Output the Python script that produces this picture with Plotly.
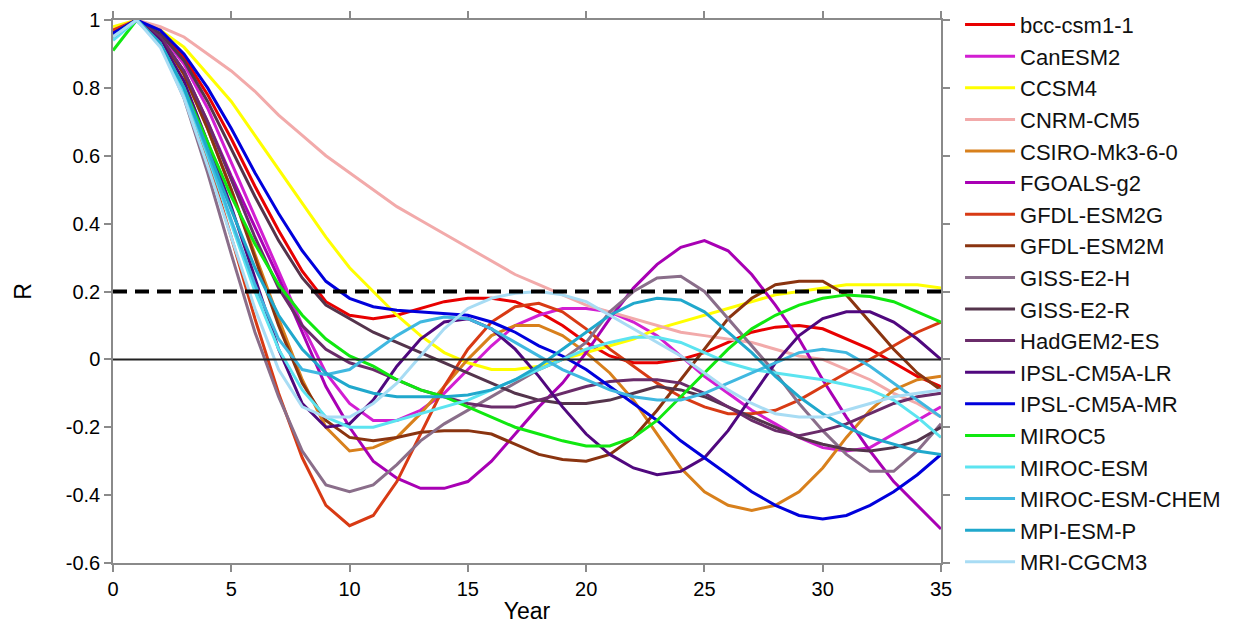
import plotly.graph_objects as go

years = list(range(0, 36))

models = ["bcc-csm1-1", "CanESM2", "CCSM4", "CNRM-CM5", "CSIRO-Mk3-6-0", "FGOALS-g2",
          "GFDL-ESM2G", "GFDL-ESM2M", "GISS-E2-H", "GISS-E2-R", "HadGEM2-ES",
          "IPSL-CM5A-LR", "IPSL-CM5A-MR", "MIROC5", "MIROC-ESM", "MIROC-ESM-CHEM",
          "MPI-ESM-P", "MRI-CGCM3"]

colors = ["#e80000", "#d21ed2", "#ffff00", "#f2aaaa", "#d8801c", "#a800b4",
          "#d83a14", "#8a3410", "#8a6e8a", "#54344c", "#6a2c6a",
          "#50087e", "#0000dc", "#10e810", "#5ce4f0", "#40b8e0",
          "#20a8cc", "#a8dcf4"]

bcc_csm1_1 = [0.97, 1.0, 0.97, 0.89, 0.78, 0.65, 0.51, 0.38, 0.26, 0.17, 0.13, 0.12, 0.13, 0.15, 0.17, 0.18,
              0.18, 0.17, 0.14, 0.10, 0.05, 0.01, -0.01, -0.01, 0.0, 0.02, 0.05, 0.08, 0.095, 0.10, 0.09,
              0.06, 0.03, -0.01, -0.05, -0.08]
CanESM2 = [0.97, 1.0, 0.96, 0.87, 0.74, 0.58, 0.42, 0.26, 0.10, -0.04, -0.13, -0.18, -0.18, -0.15, -0.10,
           -0.03, 0.04, 0.10, 0.13, 0.15, 0.15, 0.14, 0.11, 0.07, 0.01, -0.05, -0.10, -0.15, -0.19, -0.23,
           -0.26, -0.27, -0.26, -0.22, -0.18, -0.14]
CCSM4 = [0.98, 1.0, 0.97, 0.92, 0.84, 0.76, 0.66, 0.56, 0.46, 0.36, 0.27, 0.20, 0.13, 0.07, 0.02, -0.01,
         -0.03, -0.03, -0.02, 0.0, 0.02, 0.04, 0.06, 0.09, 0.11, 0.13, 0.15, 0.17, 0.19, 0.20, 0.21, 0.22,
         0.22, 0.22, 0.22, 0.21]
CNRM_CM5 = [0.97, 1.0, 0.98, 0.95, 0.90, 0.85, 0.79, 0.72, 0.66, 0.60, 0.55, 0.50, 0.45, 0.41, 0.37, 0.33,
            0.29, 0.25, 0.22, 0.19, 0.16, 0.14, 0.12, 0.10, 0.08, 0.07, 0.06, 0.05, 0.03, 0.01, 0.0,
            -0.03, -0.06, -0.10, -0.13, -0.17]
CSIRO_Mk3_6_0 = [0.96, 1.0, 0.95, 0.84, 0.68, 0.50, 0.31, 0.12, -0.06, -0.20, -0.27, -0.26, -0.23, -0.16,
                 -0.08, 0.0, 0.07, 0.10, 0.10, 0.07, 0.02, -0.04, -0.12, -0.22, -0.32, -0.39, -0.43, -0.445,
                 -0.43, -0.39, -0.32, -0.23, -0.15, -0.09, -0.06, -0.05]
FGOALS_g2 = [0.96, 1.0, 0.95, 0.85, 0.70, 0.54, 0.39, 0.24, 0.08, -0.08, -0.20, -0.30, -0.35, -0.38, -0.38,
             -0.36, -0.30, -0.22, -0.14, -0.07, 0.02, 0.12, 0.21, 0.28, 0.33, 0.35, 0.32, 0.25, 0.16, 0.06,
             -0.06, -0.17, -0.27, -0.36, -0.43, -0.50]
GFDL_ESM2G = [0.97, 1.0, 0.94, 0.80, 0.59, 0.36, 0.12, -0.10, -0.29, -0.43, -0.49, -0.46, -0.36, -0.22,
              -0.08, 0.03, 0.11, 0.155, 0.165, 0.14, 0.09, 0.03, -0.02, -0.07, -0.11, -0.14, -0.16, -0.16,
              -0.15, -0.12, -0.08, -0.04, 0.0, 0.04, 0.08, 0.11]
GFDL_ESM2M = [0.96, 1.0, 0.95, 0.84, 0.68, 0.50, 0.30, 0.10, -0.07, -0.18, -0.23, -0.24, -0.23, -0.215,
              -0.21, -0.21, -0.22, -0.25, -0.28, -0.295, -0.30, -0.28, -0.23, -0.15, -0.06, 0.03, 0.12, 0.18,
              0.22, 0.23, 0.23, 0.19, 0.11, 0.03, -0.04, -0.09]
GISS_E2_H = [0.95, 1.0, 0.93, 0.77, 0.55, 0.31, 0.08, -0.11, -0.27, -0.37, -0.39, -0.37, -0.31, -0.24, -0.19,
             -0.15, -0.11, -0.07, -0.03, 0.0, 0.05, 0.14, 0.20, 0.24, 0.245, 0.20, 0.12, 0.04, -0.04, -0.13,
             -0.21, -0.28, -0.33, -0.33, -0.27, -0.19]
GISS_E2_R = [0.96, 1.0, 0.96, 0.88, 0.76, 0.62, 0.48, 0.35, 0.24, 0.16, 0.12, 0.08, 0.05, 0.02, -0.01, -0.04,
             -0.07, -0.10, -0.12, -0.13, -0.13, -0.12, -0.10, -0.08, -0.09, -0.11, -0.14, -0.17, -0.20, -0.23,
             -0.25, -0.265, -0.27, -0.26, -0.24, -0.20]
HadGEM2_ES = [0.96, 1.0, 0.95, 0.85, 0.70, 0.53, 0.36, 0.21, 0.10, 0.03, -0.01, -0.03, -0.06, -0.09, -0.11,
              -0.13, -0.14, -0.14, -0.12, -0.10, -0.08, -0.065, -0.06, -0.06, -0.07, -0.10, -0.14, -0.18,
              -0.21, -0.225, -0.21, -0.19, -0.16, -0.13, -0.11, -0.10]
IPSL_CM5A_LR = [0.96, 1.0, 0.94, 0.82, 0.64, 0.45, 0.24, 0.03, -0.13, -0.20, -0.19, -0.12, -0.02, 0.06, 0.11,
                0.12, 0.09, 0.03, -0.05, -0.14, -0.22, -0.28, -0.32, -0.34, -0.33, -0.29, -0.21, -0.11, -0.01,
                0.07, 0.12, 0.14, 0.14, 0.11, 0.06, 0.0]
IPSL_CM5A_MR = [0.96, 1.0, 0.97, 0.90, 0.80, 0.68, 0.55, 0.43, 0.32, 0.23, 0.18, 0.155, 0.145, 0.14, 0.135,
                0.13, 0.11, 0.08, 0.04, 0.01, -0.03, -0.08, -0.13, -0.18, -0.24, -0.29, -0.34, -0.39, -0.43,
                -0.46, -0.47, -0.46, -0.43, -0.39, -0.34, -0.28]
MIROC5 = [0.91, 1.0, 0.93, 0.80, 0.64, 0.48, 0.34, 0.22, 0.13, 0.06, 0.01, -0.02, -0.06, -0.09, -0.11, -0.14,
          -0.17, -0.20, -0.22, -0.24, -0.255, -0.255, -0.23, -0.18, -0.11, -0.04, 0.03, 0.09, 0.13, 0.16,
          0.18, 0.19, 0.185, 0.17, 0.14, 0.11]
MIROC_ESM = [0.94, 1.0, 0.93, 0.79, 0.60, 0.40, 0.20, 0.03, -0.09, -0.17, -0.20, -0.20, -0.18, -0.16, -0.14,
             -0.12, -0.09, -0.06, -0.03, 0.0, 0.03, 0.05, 0.065, 0.065, 0.05, 0.02, -0.01, -0.03, -0.04,
             -0.05, -0.06, -0.075, -0.09, -0.12, -0.17, -0.23]
MIROC_ESM_CHEM = [0.95, 1.0, 0.93, 0.80, 0.61, 0.41, 0.22, 0.06, -0.03, -0.045, -0.03, 0.02, 0.07, 0.11,
                  0.125, 0.12, 0.09, 0.05, 0.01, -0.03, -0.06, -0.09, -0.11, -0.12, -0.12, -0.10, -0.07,
                  -0.04, -0.01, 0.02, 0.03, 0.02, -0.02, -0.07, -0.12, -0.17]
MPI_ESM_P = [0.95, 1.0, 0.93, 0.80, 0.62, 0.44, 0.27, 0.13, 0.03, -0.04, -0.08, -0.10, -0.11, -0.11, -0.11,
             -0.105, -0.09, -0.06, -0.02, 0.03, 0.08, 0.13, 0.165, 0.18, 0.175, 0.14, 0.08, 0.02, -0.05,
             -0.11, -0.16, -0.20, -0.23, -0.25, -0.27, -0.28]
MRI_CGCM3 = [0.95, 1.0, 0.92, 0.77, 0.57, 0.36, 0.15, -0.03, -0.14, -0.17, -0.17, -0.13, -0.07, 0.01, 0.09,
             0.15, 0.18, 0.195, 0.20, 0.19, 0.17, 0.13, 0.09, 0.05, 0.01, -0.04, -0.09, -0.13, -0.16, -0.17,
             -0.17, -0.15, -0.13, -0.11, -0.10, -0.09]

series = [bcc_csm1_1, CanESM2, CCSM4, CNRM_CM5, CSIRO_Mk3_6_0, FGOALS_g2, GFDL_ESM2G, GFDL_ESM2M,
          GISS_E2_H, GISS_E2_R, HadGEM2_ES, IPSL_CM5A_LR, IPSL_CM5A_MR, MIROC5, MIROC_ESM,
          MIROC_ESM_CHEM, MPI_ESM_P, MRI_CGCM3]

threshold = 0.2
x_ticks = [0, 5, 10, 15, 20, 25, 30, 35]
y_ticks = [1, 0.8, 0.6, 0.4, 0.2, 0, -0.2, -0.4, -0.6]
y_ticktext = ["1", "0.8", "0.6", "0.4", "0.2", "0", "-0.2", "-0.4", "-0.6"]

FONT = "Liberation Sans, Arial, sans-serif"

fig = go.Figure()
for name, vals, c in zip(models, series, colors):
    fig.add_trace(go.Scatter(x=years, y=vals, mode="lines", name=name,
                             line=dict(color=c, width=3)))

fig.add_trace(go.Scatter(x=[0, 35], y=[0, 0], mode="lines", showlegend=False,
                         line=dict(color="#222222", width=2), hoverinfo="skip"))
fig.add_trace(go.Scatter(x=[0, 35], y=[threshold, threshold], mode="lines", showlegend=False,
                         line=dict(color="black", width=4, dash="14px,8px"), hoverinfo="skip"))

axis_common = dict(showgrid=False, zeroline=False, showline=True, linecolor="#8a8a8a", linewidth=1.5,
                   mirror="ticks", ticks="outside", ticklen=7, tickcolor="#8a8a8a", tickwidth=1.5,
                   tickfont=dict(family=FONT, size=20, color="black"))

fig.update_layout(
    width=1252, height=636,
    margin=dict(l=113, r=311, t=20, b=73, autoexpand=False),
    paper_bgcolor="white", plot_bgcolor="white",
    font=dict(family=FONT, color="black"),
    xaxis=dict(range=[0, 35], tickvals=x_ticks,
               title=dict(text="Year", font=dict(size=23), standoff=4), **axis_common),
    yaxis=dict(range=[-0.6, 1], tickvals=y_ticks, ticktext=y_ticktext,
               title=dict(text="R", font=dict(size=23), standoff=28), **axis_common),
    legend=dict(x=1.023, y=0.994, xanchor="left", yanchor="top", yref="container",
                font=dict(family=FONT, size=22, color="#111111"),
                itemwidth=50, tracegroupgap=0, bgcolor="rgba(0,0,0,0)", maxheight=640),
    showlegend=True,
)

fig.write_html("out.html")
